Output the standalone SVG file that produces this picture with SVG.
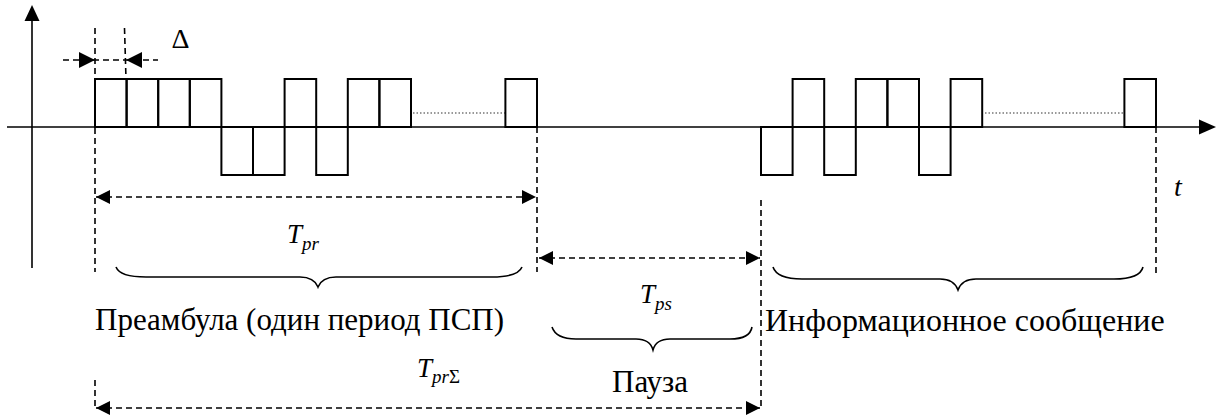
<svg xmlns="http://www.w3.org/2000/svg" width="1222" height="420" viewBox="0 0 1222 420">
  <style>
    .axis { stroke: #000; stroke-width: 1.6; fill: none; }
    .chip { stroke: #000; stroke-width: 2; fill: none; }
    .dots { stroke: #333; stroke-width: 1.2; stroke-dasharray: 1.5 2; fill: none; }
    .dash { stroke: #000; stroke-width: 1.6; stroke-dasharray: 6 4; fill: none; }
    .brace { stroke: #000; stroke-width: 1.6; fill: none; }
    .head { fill: #000; stroke: none; }
    text { font-family: "Liberation Serif", "Times New Roman", serif; fill: #000; }
    .it { font-style: italic; }
  </style>
  <defs>
    <marker id="arrowEnd" viewBox="0 0 14 14" refX="14" refY="7" markerWidth="14" markerHeight="14" markerUnits="userSpaceOnUse" orient="auto">
      <path d="M0,0 L14,7 L0,14 Z" class="head"/>
    </marker>
    <marker id="arrowStart" viewBox="0 0 14 14" refX="0" refY="7" markerWidth="14" markerHeight="14" markerUnits="userSpaceOnUse" orient="auto">
      <path d="M14,0 L0,7 L14,14 Z" class="head"/>
    </marker>
  </defs>

  <!-- axes -->
  <g id="axes">
    <line class="axis" x1="32" y1="268" x2="32" y2="18"/>
    <path class="head" d="M32,5 L24.5,21 L39.5,21 Z"/>
    <line class="axis" x1="7" y1="127" x2="1200" y2="127"/>
    <path class="head" d="M1216,127 L1199,119.5 L1199,134.5 Z"/>
  </g>

  <!-- preamble chips: + + + + - - + - + + ... + -->
  <g id="preamble">
    <rect class="chip" x="95" y="79" width="31.6" height="48"/>
    <rect class="chip" x="126.6" y="79" width="31.6" height="48"/>
    <rect class="chip" x="158.2" y="79" width="31.6" height="48"/>
    <rect class="chip" x="189.8" y="79" width="31.6" height="48"/>
    <rect class="chip" x="221.4" y="127" width="31.6" height="48"/>
    <rect class="chip" x="253" y="127" width="31.6" height="48"/>
    <rect class="chip" x="284.6" y="79" width="31.6" height="48"/>
    <rect class="chip" x="316.2" y="127" width="31.6" height="48"/>
    <rect class="chip" x="347.8" y="79" width="31.6" height="48"/>
    <rect class="chip" x="379.4" y="79" width="31.6" height="48"/>
    <line class="dots" x1="413" y1="113" x2="505" y2="113"/>
    <rect class="chip" x="505.4" y="79" width="31.6" height="48"/>
  </g>

  <!-- message chips: - + - + + - + ... + -->
  <g id="message">
    <rect class="chip" x="761" y="127" width="31.6" height="48"/>
    <rect class="chip" x="792.6" y="79" width="31.6" height="48"/>
    <rect class="chip" x="824.2" y="127" width="31.6" height="48"/>
    <rect class="chip" x="855.8" y="79" width="31.6" height="48"/>
    <rect class="chip" x="887.4" y="79" width="31.6" height="48"/>
    <rect class="chip" x="919" y="127" width="31.6" height="48"/>
    <rect class="chip" x="950.6" y="79" width="31.6" height="48"/>
    <line class="dots" x1="985" y1="113" x2="1124" y2="113"/>
    <rect class="chip" x="1124.4" y="79" width="31.6" height="48"/>
  </g>

  <!-- dimension lines -->
  <g id="connectors">
    <line class="dash" x1="95" y1="28" x2="95" y2="272"/>
    <line class="dash" x1="124.5" y1="28" x2="126" y2="79"/>
    <line class="dash" x1="537" y1="127" x2="537" y2="272"/>
    <line class="dash" x1="1156" y1="127" x2="1156" y2="273"/>
    <line class="dash" x1="761" y1="200" x2="761" y2="410"/>
    <line class="dash" x1="95" y1="380" x2="95" y2="408"/>

    <!-- chip width -->
    <line class="dash" x1="63" y1="60" x2="158" y2="60"/>
    <path class="head" d="M95,60 L79,52 L79,68 Z"/>
    <path class="head" d="M126,60 L142,52 L142,68 Z"/>

    <!-- preamble, pause and total spans -->
    <line class="dash" x1="96" y1="197" x2="536" y2="197" marker-start="url(#arrowStart)" marker-end="url(#arrowEnd)"/>
    <line class="dash" x1="539" y1="258" x2="760" y2="258" marker-start="url(#arrowStart)" marker-end="url(#arrowEnd)"/>
    <line class="dash" x1="96" y1="408" x2="760" y2="408" marker-start="url(#arrowStart)" marker-end="url(#arrowEnd)"/>

    <!-- braces -->
    <path class="brace" d="M116,267 Q120,277 146,277 L300,277 Q314,277 318,287 Q322,277 336,277 L492,277 Q518,277 522,267"/>
    <path class="brace" d="M552,327 Q556,339 576,339 L636,339 Q650,339 653,350 Q656,339 670,339 L730,339 Q750,339 752,327"/>
    <path class="brace" d="M773,267 Q777,279 802,279 L940,279 Q954,279 958,290 Q962,279 976,279 L1114,279 Q1140,279 1143,267"/>
  </g>

  <!-- labels -->
  <g id="labels">
    <text x="180.5" y="48" font-size="28" text-anchor="middle">Δ</text>
    <text class="it" x="1174" y="196" font-size="28">t</text>
    <text class="it" x="287" y="243" font-size="27">T<tspan font-size="19" dy="7">pr</tspan></text>
    <text class="it" x="640" y="303" font-size="27">T<tspan font-size="19" dy="7">ps</tspan></text>
    <text class="it" x="417" y="377" font-size="27">T<tspan font-size="19" dy="6">pr</tspan><tspan font-size="19" font-style="normal">Σ</tspan></text>
    <text x="95" y="330" font-size="31">Преамбула (один период ПСП)</text>
    <text x="765" y="331" font-size="32">Информационное сообщение</text>
    <text x="612" y="392" font-size="31">Пауза</text>
  </g>
</svg>
